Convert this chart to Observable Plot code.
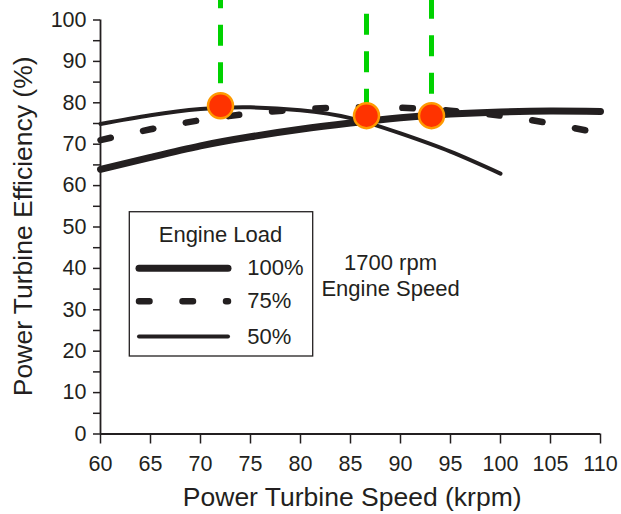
<!DOCTYPE html>
<html>
<head>
<meta charset="utf-8">
<script src="https://cdn.jsdelivr.net/npm/d3@7"></script>
<script src="https://cdn.jsdelivr.net/npm/@observablehq/plot@0.6"></script>
<style>
  html, body { margin: 0; padding: 0; background: #fff; }
  #chart svg { display: block; }
</style>
</head>
<body>
<div id="chart"></div>
<script>
// ---- data ----
const speeds   = [60, 65, 70, 75, 80, 85, 90, 95, 100, 105, 110];
const eff100   = [63.9, 66.8, 69.6, 71.8, 73.6, 75.1, 76.4, 77.3, 77.8, 78.0, 77.9];
const eff75    = [71.0, 73.6, 75.8, 77.4, 78.4, 78.9, 78.8, 78.1, 76.9, 75.0, 72.6];
const speeds50 = [60, 65, 70, 75, 80, 85, 90, 95, 100];
const eff50    = [74.9, 77.0, 78.5, 78.9, 78.2, 76.3, 72.6, 68.2, 62.9];
const peakSpeed = [72.0, 86.6, 93.1];
const peakEff   = [79.3, 76.9, 76.9];
const loadLabels = ["100%", "75%", "50%"];
const legendTitle = "Engine Load";
const noteLines = ["1700 rpm", "Engine Speed"];
const xTicks = [60, 65, 70, 75, 80, 85, 90, 95, 100, 105, 110];
const yTicks = [0, 10, 20, 30, 40, 50, 60, 70, 80, 90, 100];
const yMinorTicks = [5, 15, 25, 35, 45, 55, 65, 75, 85, 95];
const xTitle = "Power Turbine Speed (krpm)";
const yTitle = "Power Turbine Efficiency (%)";

// ---- tables ----
const rows100 = speeds.map((s, i) => ({speed: s, eff: eff100[i]}));
const rows75  = speeds.map((s, i) => ({speed: s, eff: eff75[i]}));
const rows50  = speeds50.map((s, i) => ({speed: s, eff: eff50[i]}));
const peaks   = peakSpeed.map((s, i) => ({speed: s, eff: peakEff[i]}));

// ---- styles / layout ----
const ink = "#231f20";
const green = "#00d200";
const font = "'Liberation Sans', Arial, Helvetica, sans-serif";
const styles = [
  {strokeWidth: 7},
  {strokeWidth: 6.5, strokeDasharray: "10.5,33"},
  {strokeWidth: 4}
];
const greenOffsets = [12.4, 23.3, 2];
const topVal = 104.8;

// legend layout (in data coordinates)
const legBox = {x1: 62.93, x2: 81.27, y1: 18.72, y2: 53.57};
const legLineX = [63.85, 72.75];
const legYs = [40.05, 32.08, 23.55];
const legLabelX = 74.67;
const legTitlePos = {x: 72, y: 48.0};
const notePos = {x: 89, ys: [41.2, 35.0]};

const legendLines = loadLabels.map((lab, i) =>
  Plot.line(legLineX.map(x => ({x, y: legYs[i]})), {
    x: "x", y: "y", stroke: ink, strokeLinecap: "round", ...styles[i]
  })
);

const greenRules = peaks.map((p, i) =>
  Plot.ruleX([p], {
    x: "speed", y1: () => topVal, y2: "eff",
    stroke: green, strokeWidth: 5,
    strokeDasharray: "21,16.5", strokeDashoffset: greenOffsets[i]
  })
);

const chart = Plot.plot({
  width: 621,
  height: 514,
  marginLeft: 100,
  marginRight: 21,
  marginTop: 19.5,
  marginBottom: 80.5,
  style: {fontFamily: font, color: ink, background: "#fff", overflow: "visible"},
  x: {domain: [60, 110]},
  y: {domain: [0, 100]},
  marks: [
    Plot.axisX({ticks: xTicks, tickSize: 10, tickPadding: 12, fontSize: 21.5,
                label: null, stroke: ink, strokeWidth: 1.5, fill: ink}),
    Plot.axisY({ticks: yTicks, tickSize: 7, tickPadding: 7, fontSize: 21.5,
                label: null, stroke: ink, strokeWidth: 1.5, fill: ink}),
    Plot.axisY({ticks: yMinorTicks, tickSize: 7, tickFormat: () => "",
                label: null, stroke: ink, strokeWidth: 1.5}),
    Plot.ruleX([60], {stroke: ink, strokeWidth: 1.8}),
    Plot.ruleY([0], {stroke: ink, strokeWidth: 1.8}),

    // curves
    Plot.line(rows100, {x: "speed", y: "eff", curve: "natural", stroke: ink,
                        strokeLinecap: "round", ...styles[0]}),
    Plot.line(rows75, {x: "speed", y: "eff", curve: "natural", stroke: ink,
                       strokeLinecap: "round", ...styles[1]}),
    Plot.line(rows50, {x: "speed", y: "eff", curve: "natural", stroke: ink,
                       strokeLinecap: "round", ...styles[2]}),

    // optimum markers
    ...greenRules,
    Plot.dot(peaks, {x: "speed", y: "eff", r: 12.5, fill: "#ff3300",
                     stroke: "#ff9a00", strokeWidth: 2.5}),

    // legend
    Plot.rect([legBox], {x1: "x1", x2: "x2", y1: "y1", y2: "y2",
                         fill: "#fff", stroke: ink, strokeWidth: 1.3}),
    Plot.text([legendTitle], {x: () => legTitlePos.x, y: () => legTitlePos.y,
                              text: d => d, fontSize: 22, fill: ink, textAnchor: "middle"}),
    ...legendLines,
    Plot.text(loadLabels, {x: () => legLabelX, y: (d, i) => legYs[i], text: d => d,
                           fontSize: 22, fill: ink, textAnchor: "start"}),
    Plot.text(noteLines, {x: () => notePos.x, y: (d, i) => notePos.ys[i], text: d => d,
                          fontSize: 22, fill: ink, textAnchor: "middle"}),

    // axis titles
    Plot.text([xTitle], {frameAnchor: "bottom", text: d => d, fontSize: 26.5,
                         fill: ink, lineAnchor: "middle", textAnchor: "middle", dy: 63.7, dx: 1.7}),
    Plot.text([yTitle], {frameAnchor: "left", text: d => d, fontSize: 26.5,
                         fill: ink, rotate: -90, lineAnchor: "middle", textAnchor: "middle",
                         dx: -77, dy: -0.7})
  ]
});

document.getElementById("chart").appendChild(chart);
</script>
</body>
</html>
